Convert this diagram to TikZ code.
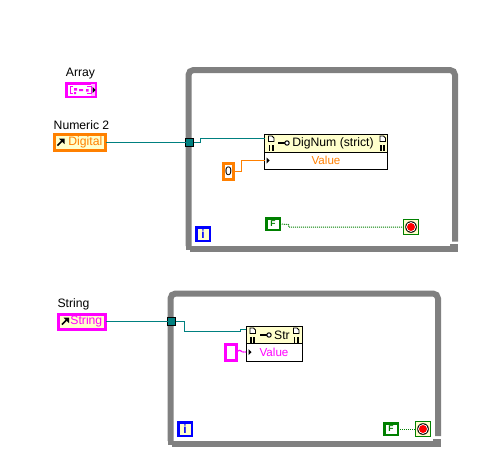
\documentclass[tikz,border=0pt]{standalone}
\usepackage{fontspec}
\setmainfont{Liberation Sans}
\definecolor{lvteal}{RGB}{0,128,128}
\definecolor{lvorange}{RGB}{255,128,0}
\definecolor{lvpink}{RGB}{255,0,255}
\definecolor{lvgreen}{RGB}{0,128,0}
\definecolor{lvblue}{RGB}{0,0,255}
\definecolor{lvgray}{RGB}{128,128,128}
\definecolor{lvcream}{RGB}{255,255,204}
\tikzset{
  lbl/.style={inner sep=0pt,font=\fontsize{12.2}{12}\selectfont,text=black},
  termbox/.style={draw,rectangle,inner sep=0pt,outer sep=0pt,line width=#1},
  ctl/.style={termbox=3pt,fill=lvcream,font=\fontsize{12.2}{12}\selectfont},
  tun/.style={termbox=1pt,draw=black,fill=lvteal,minimum width=8pt,minimum height=8pt},
  fnhead/.style={termbox=1pt,draw=black,fill=lvcream,font=\fontsize{12.2}{12}\selectfont},
  fnbody/.style={termbox=1pt,draw=black,fill=white,font=\fontsize{11.6}{12}\selectfont},
  small/.style={termbox=2.5pt,minimum width=13.5pt,minimum height=11.5pt},
  stopb/.style={termbox=1pt,draw=lvgreen,fill=lvcream,minimum width=15pt,minimum height=15pt},
  wteal/.style={draw=lvteal,line width=1pt},
  worange/.style={draw=lvorange,line width=1pt},
  wdot/.style={draw=lvgreen,line width=1pt,dash pattern=on 1pt off 1pt},
  frameline/.style={draw=lvgray,line width=6pt,rounded corners=5pt},
}
\newcommand{\framebar}[6]{% left x, top y, right x, right-end y, bar top y, bar bottom y
  \draw[frameline] (#1,#5) -- (#1,#2) -- (#3,#2) -- (#3,#4);
  \fill[lvgray] (#1-3,#5) rectangle (#3+3,#5+4);
  \fill[lvgray] (#1+1,#5+4) rectangle (#3+3,#6);
  \fill[lvgray] (#3-5,#5-2) rectangle (#3+3,#5);
}
\newcommand{\arrowicon}[2]{% centre of the reference arrow glyph
  \draw[black,line width=1.5pt] (#1-3,#2+3) -- (#1+2,#2-2);
  \fill[black] (#1-1.5,#2-4) -- (#1+4,#2-4) -- (#1+4,#2+1.5) -- cycle;
}
\newcommand{\pageicon}[2]{% top-left corner of the small page and alert marks
  \draw[black,line width=.8pt,fill=white] (#1,#2) -- (#1+3.5,#2) -- (#1+5.5,#2+2) -- (#1+5.5,#2+5.5) -- (#1,#2+5.5) -- cycle;
  \fill[black] (#1,#2+9) rectangle (#1+1.6,#2+12.5);
  \fill[black] (#1,#2+13.3) rectangle (#1+1.6,#2+14.6);
  \fill[black] (#1+3.4,#2+9) rectangle (#1+5,#2+12.5);
  \fill[black] (#1+3.4,#2+13.3) rectangle (#1+5,#2+14.6);
}
\newcommand{\keyicon}[2]{% left end of the key glyph
  \fill[black] (#1,#2-1) rectangle (#1+7,#2+1);
  \draw[black,line width=1pt,fill=white] (#1+9,#2) circle (2.2);
}
\newcommand{\inmark}[2]{\fill[black] (#1,#2-3) -- (#1+3,#2) -- (#1,#2+3) -- cycle;}
\newcommand{\stopmark}[1]{%
  \fill[black] (#1) circle (5.8);
  \fill[white] (#1) circle (4.9);
  \fill[red] (#1) circle (4);
}
\begin{document}
\begin{tikzpicture}[x=1pt,y=-1pt]
\useasboundingbox (0,0) rectangle (478,463);
\fill[white] (0,0) rectangle (478,463);

% ---- frames
\framebar{188.5}{70}{455}{241.5}{246}{252}
\framebar{170.5}{293.5}{438}{436}{441}{447}

% ---- upper diagram
\node[lbl] (arrlbl) at (80.5,74) {Array};
\node[termbox=2.5pt,draw=lvpink,fill=white,minimum width=29.5pt,minimum height=13.5pt] (arr) at (81,90) {};
\fill[lvpink!25] (90.5,84) rectangle (94.5,96);
\draw[lvpink,line width=1pt] (73,86.5) -- (70.5,86.5) -- (70.5,93.5) -- (73,93.5);
\draw[lvpink,line width=1pt] (87,86.5) -- (91,86.5) -- (91,93.5) -- (87,93.5);
\fill[lvpink] (74,88) rectangle (77,90.5) (79,89) rectangle (83,91) (74,92) rectangle (76,94) (86,89) rectangle (88.5,91.5);
\inmark{92.5}{90}

\node[lbl] (numlbl) at (81.5,125) {Numeric 2};
\node[ctl,draw=lvorange,minimum width=51pt,minimum height=16pt,text=lvorange] (num) at (80,142.5) {\hspace{10.6pt}Digital};
\arrowicon{60.5}{142.5}
\node[tun] (t1) at (189.5,142.5) {};
\coordinate (t1a) at (200.5,142.5);
\coordinate (t1b) at (200.5,138.5);
\draw[wteal] (num.east) -- (t1.west);

\node[fnhead,minimum width=123pt,minimum height=18pt] (dig) at (326,143) {\hspace{14pt}DigNum (strict)};
\node[fnbody,minimum width=123pt,minimum height=17pt,text=lvorange,anchor=north] (digv) at (dig.south) {Value};
\coordinate (digin) at (dig.west |- 0,138.5);
\draw[wteal] (t1.east) -- (t1a) -- (t1b) -- (digin);
\pageicon{268.5}{136}
\pageicon{380}{136}
\keyicon{278}{143}
\inmark{266.5}{160.5}

\node[termbox=3pt,draw=lvorange,fill=white,minimum width=10pt,minimum height=16pt,font=\fontsize{12.2}{12}\selectfont] (zero) at (228.5,171.5) {0};
\coordinate (z1) at (241.5,171.5);
\coordinate (z2) at (241.5,160.5);
\draw[worange] (zero.east) -- (z1) -- (z2) -- (digv.west |- z2);

\node[small,draw=lvgreen,fill=white,font=\bfseries\fontsize{8.5}{9}\selectfont,text=lvgreen] (f1) at (273,224) {F};
\node[stopb] (s1) at (411,227) {};
\stopmark{s1}
\coordinate (f1a) at (288.5,224.5);
\coordinate (f1b) at (288.5,227);
\draw[wdot] (f1.east) -- (f1a) -- (f1b) -- (s1.west);
\node[termbox=2.5pt,draw=lvblue,fill=lvcream,minimum width=13.5pt,minimum height=13.5pt,font=\bfseries\fontsize{12}{11}\selectfont,text=lvblue] (i1) at (203,234) {i};

% ---- lower diagram
\node[lbl] (strlbl) at (73.5,304) {String};
\node[termbox=3pt,draw=lvpink,fill=lvcream,minimum width=47pt,minimum height=15pt,text=lvpink,font=\fontsize{12.2}{12}\selectfont] (str) at (82,321.5) {\hspace{8.7pt}String};
\arrowicon{65}{321.5}
\node[tun] (t2) at (171.5,321.5) {};
\coordinate (t2a) at (184.5,321.5);
\coordinate (t2b) at (184.5,331.5);
\coordinate (t2c) at (240.5,331.5);
\coordinate (t2d) at (240.5,329.5);
\draw[wteal] (str.east) -- (t2.west);

\node[fnhead,minimum width=56pt,minimum height=17.5pt] (fs) at (274,335) {\hspace{16pt}Str};
\node[fnbody,minimum width=56pt,minimum height=18pt,text=lvpink,anchor=north] (fsv) at (fs.south) {Value};
\draw[wteal] (t2.east) -- (t2a) -- (t2b) -- (t2c) -- (t2d) -- (fs.west |- t2d);
\pageicon{250}{328}
\pageicon{293.5}{328}
\keyicon{260}{335}
\inmark{248.5}{352}

\node[termbox=3pt,draw=lvpink,fill=white,minimum width=11pt,minimum height=16pt] (sc) at (230.5,352.5) {};
\coordinate (w1) at (240,350);
\coordinate (w2) at (242,352);
\draw[draw=lvpink,line width=1.2pt,dash pattern=on 2pt off .6pt] (sc.east) -- (w1) -- (w2) -- (fsv.west |- w2);

\node[small,draw=lvgreen,fill=white,font=\bfseries\fontsize{8.5}{9}\selectfont,text=lvgreen] (f2) at (391,429) {F};
\node[stopb] (s2) at (423,429) {};
\stopmark{s2}
\draw[wdot] (f2.east) -- (s2.west);
\node[termbox=2.5pt,draw=lvblue,fill=lvcream,minimum width=13.5pt,minimum height=13.5pt,font=\bfseries\fontsize{12}{11}\selectfont,text=lvblue] (i2) at (185,429) {i};
\end{tikzpicture}
\end{document}
